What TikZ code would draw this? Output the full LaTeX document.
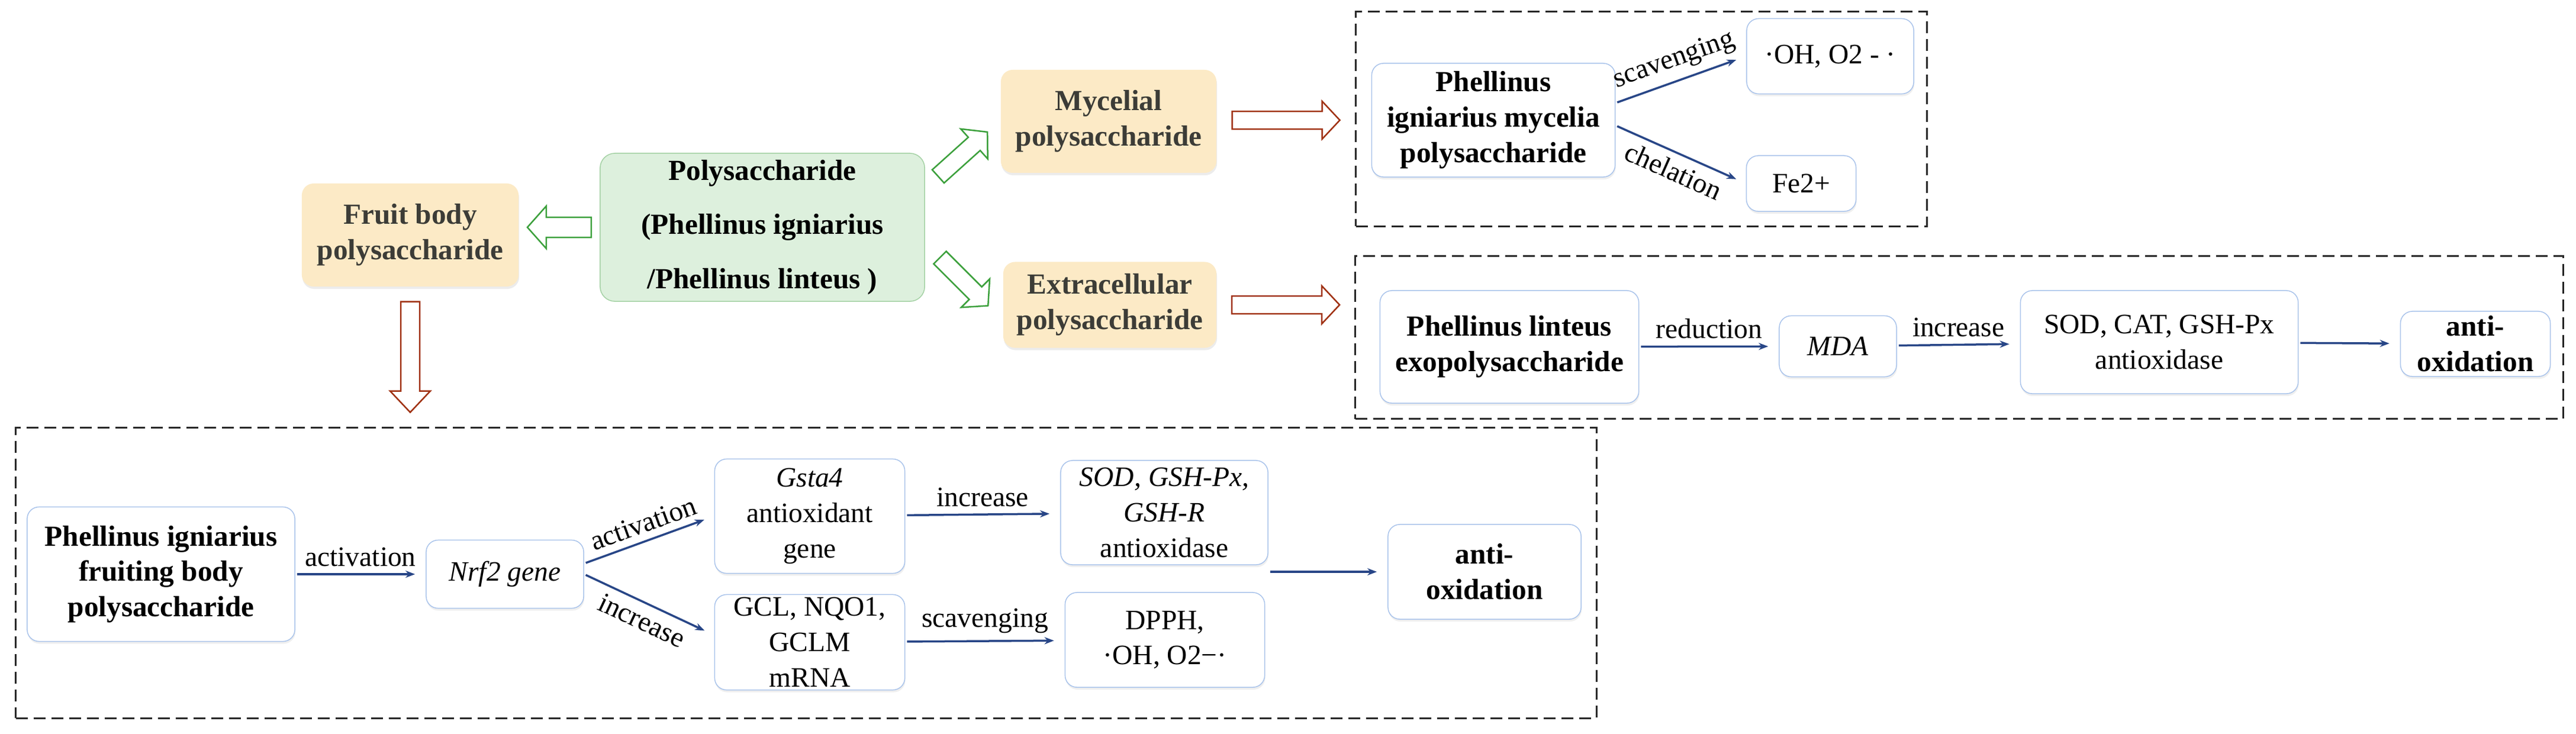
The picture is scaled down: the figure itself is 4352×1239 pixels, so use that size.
\documentclass[tikz,border=0pt]{standalone}
\usepackage{fontspec}
\setmainfont{Liberation Serif}
\usetikzlibrary{arrows.meta,shadows,calc}
\definecolor{boxline}{RGB}{170,196,235}
\definecolor{srcfill}{RGB}{252,234,198}
\definecolor{rootfill}{RGB}{221,240,221}
\definecolor{rootline}{RGB}{165,210,165}
\definecolor{linkblue}{RGB}{40,70,135}
\definecolor{hollowgreen}{RGB}{60,160,60}
\definecolor{hollowred}{RGB}{160,50,20}
\definecolor{srctext}{RGB}{60,60,55}
\tikzstyle{stage}=[draw=boxline,line width=0.015cm,rounded corners=0.2cm,fill=white,align=center,inner sep=0pt,font=\fontsize{13.5}{17}\selectfont,drop shadow={opacity=0.12,shadow xshift=0.01cm,shadow yshift=-0.04cm}]
\tikzstyle{boldstage}=[stage,font=\bfseries\fontsize{14}{17}\selectfont]
\tikzstyle{source}=[fill=srcfill,rounded corners=0.2cm,align=center,inner sep=0pt,text=srctext,font=\bfseries\fontsize{14}{17}\selectfont,drop shadow={opacity=0.15,shadow xshift=0.01cm,shadow yshift=-0.04cm}]
\tikzstyle{root}=[fill=rootfill,draw=rootline,line width=0.015cm,rounded corners=0.25cm,align=center,inner sep=0pt,font=\bfseries\fontsize{14}{26}\selectfont]
\tikzstyle{dashframe}=[draw=black!85,line width=0.03cm,dash pattern=on 0.2cm off 0.1cm,inner sep=0pt]
\tikzstyle{link}=[-{Stealth[length=0.16cm,width=0.12cm]},linkblue,line width=0.035cm,shorten <=0.03cm,shorten >=0.18cm]
\tikzstyle{tag}=[text=black,font=\fontsize{13.5}{16}\selectfont]
\tikzstyle{hollow}=[fill=white,line width=0.025cm,line join=miter]
% colour, centre, angle, length, shaft half, head half, head length
\newcommand{\hollowarrow}[7]{%
\begin{scope}[shift={#2},rotate=#3]
\draw[hollow,draw=#1] (-#4/2,-#5) -- (#4/2-#7,-#5) -- (#4/2-#7,-#6) -- (#4/2,0)
  -- (#4/2-#7,#6) -- (#4/2-#7,#5) -- (-#4/2,#5) -- cycle;
\end{scope}}

\begin{document}
\begin{tikzpicture}[x=0.01cm,y=-0.01cm]
\fill[white] (0,0) rectangle (4352,1239);
\node[dashframe,minimum width=9.64cm,minimum height=3.62cm] (frameA) at (2773,201) {};
\node[dashframe,minimum width=20.39cm,minimum height=2.75cm] (frameB) at (3310,570) {};
\node[dashframe,minimum width=26.69cm,minimum height=4.9cm] (frameC) at (1362,968) {};

\node[root,minimum width=5.48cm,minimum height=2.5cm] (poly) at (1288,384) {Polysaccharide\\ (Phellinus igniarius\\/Phellinus linteus\ )};
\node[source,minimum width=3.66cm,minimum height=1.74cm] (fruit) at (693,397) {Fruit body\\polysaccharide};
\node[source,minimum width=3.64cm,minimum height=1.74cm] (myc) at (1873,205) {Mycelial\\polysaccharide};
\node[source,minimum width=3.6cm,minimum height=1.45cm] (extra) at (1875,515) {Extracellular\\polysaccharide};

\node[boldstage,minimum width=4.11cm,minimum height=1.92cm] (mycelia) at (2523,203) {Phellinus\\igniarius mycelia\\polysaccharide};
\node[stage,minimum width=2.82cm,minimum height=1.27cm] (oh) at (3092,95) {·OH, O2 - ·};
\node[stage,minimum width=1.85cm,minimum height=0.94cm] (fe) at (3043,310) {Fe2+};

\node[boldstage,minimum width=4.37cm,minimum height=1.9cm] (exo) at (2550,586) {Phellinus linteus\\exopolysaccharide};
\node[stage,minimum width=1.98cm,minimum height=1.03cm] (mda) at (3105,585) {\textit{MDA}};
\node[stage,minimum width=4.69cm,minimum height=1.74cm] (sodcat) at (3648,578) {SOD, CAT, GSH-Px\\antioxidase};
\node[boldstage,minimum width=2.53cm,minimum height=1.1cm] (antiA) at (4182,581) {anti-\\oxidation};

\node[boldstage,minimum width=4.52cm,minimum height=2.27cm] (fruiting) at (272,970) {Phellinus igniarius\\fruiting body\\polysaccharide};
\node[stage,minimum width=2.66cm,minimum height=1.15cm] (nrf) at (853,970) {\textit{Nrf2 gene}};
\node[stage,minimum width=3.21cm,minimum height=1.93cm] (gsta) at (1368,872) {\textit{Gsta4}\\antioxidant\\gene};
\node[stage,minimum width=3.21cm,minimum height=1.61cm] (gcl) at (1368,1085) {GCL, NQO1,\\GCLM\\mRNA};
\node[stage,minimum width=3.5cm,minimum height=1.76cm] (sodgsh) at (1967,866) {\textit{SOD, GSH-Px,}\\\textit{GSH-R}\\antioxidase};
\node[stage,minimum width=3.37cm,minimum height=1.6cm] (dpph) at (1968,1081) {DPPH,\\·OH, O2−·};
\node[boldstage,minimum width=3.26cm,minimum height=1.6cm] (antiB) at (2508,966) {anti-\\oxidation};

\hollowarrow{hollowgreen}{($(poly.west)!0.5!(poly.west -| fruit.east)$)}{180}{108}{17}{36}{32}
\hollowarrow{hollowgreen}{($(poly.north east)!0.5!(myc.south west)+(0,-15)$)}{42}{112}{15}{34}{30}
\hollowarrow{hollowgreen}{($(poly.south east)!0.5!(extra.north west)$)}{-45}{115}{15}{34}{30}
\hollowarrow{hollowred}{($(myc.east)!0.5!(frameA.west)$)}{0}{182}{15}{32}{30}
\hollowarrow{hollowred}{($(extra.east)!0.5!(extra.east -| frameB.west)$)}{0}{182}{15}{32}{30}
\hollowarrow{hollowred}{($(fruit.south)!0.5!(fruit.south |- frameC.north)$)}{-90}{187}{16}{34}{36}

\draw[link] ([yshift=0.29cm]mycelia.east) -- node[tag,sloped,above] {scavenging} (oh.west);
\draw[link] ([yshift=-0.09cm]mycelia.east) -- node[tag,sloped,below] {chelation} (fe.west);
\draw[link] (exo) -- node[tag,above] {reduction} (mda);
\draw[link] (mda) -- node[tag,above] {increase} (sodcat);
\draw[link] (sodcat) -- (antiA);
\draw[link] (fruiting) -- node[tag,above] {activation} (nrf);
\draw[link] ([yshift=0.18cm]nrf.east) -- node[tag,sloped,above] {activation} (gsta.west);
\draw[link] (nrf.east) -- node[tag,sloped,below] {increase} ([yshift=0.12cm]gcl.west);
\draw[link] (gsta) -- node[tag,above] {increase} (sodgsh);
\draw[link] (gcl) -- node[tag,above] {scavenging} (dpph);
\draw[link] (sodgsh.east |- antiB.west) -- (antiB.west);
\end{tikzpicture}
\end{document}
